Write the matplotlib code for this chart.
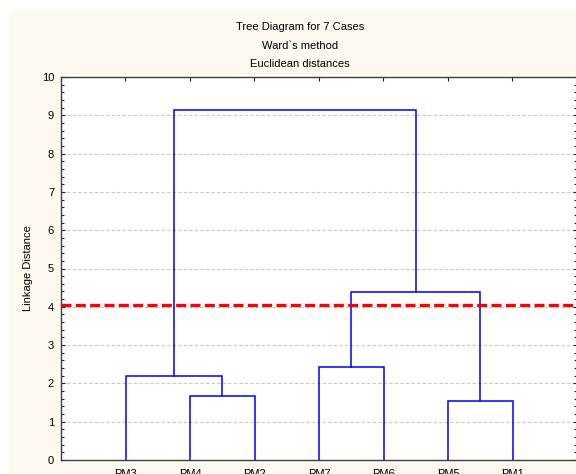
import matplotlib.pyplot as plt
from matplotlib.ticker import MultipleLocator

plt.rcParams['font.family'] = ['Liberation Sans', 'DejaVu Sans']

# leaves in dendrogram order
leaves = ['PM3', 'PM4', 'PM2', 'PM7', 'PM6', 'PM5', 'PM1']
# merges: (left member, right member, linkage distance)
merges = [
    ('PM4', 'PM2', 1.66),
    ('PM3', 'c0', 2.19),
    ('PM7', 'PM6', 2.42),
    ('PM5', 'PM1', 1.55),
    ('c2', 'c3', 4.38),
    ('c1', 'c4', 9.13),
]
cut_height = 4.06

fig = plt.figure(figsize=(5.76, 4.74), dpi=100)
fig.patch.set_facecolor('white')
# cream panel behind everything (white margin at left/top)
fig.patches.append(plt.Rectangle((10 / 576, 0), 1, 1 - 10 / 474, transform=fig.transFigure,
                                 facecolor='#fdf9ef', edgecolor='none', zorder=-1))

ax = fig.add_axes([61 / 576, 14 / 474, 516 / 576, 383 / 474])
ax.set_facecolor('white')

# positions and heights of every node
pos = {name: i + 1 for i, name in enumerate(leaves)}
height = {name: 0.0 for name in leaves}
for k, (a, b, h) in enumerate(merges):
    xa, xb = pos[a], pos[b]
    ax.plot([xa, xa, xb, xb], [height[a], h, h, height[b]], color='#0000ff', lw=1.1,
            solid_joinstyle='miter', zorder=3)
    pos['c%d' % k] = (xa + xb) / 2
    height['c%d' % k] = h

ax.axhline(cut_height, color='#ff0000', lw=2.4, ls=(0, (3.0, 1.3)), zorder=4)

ax.set_xlim(0, 8)
ax.set_ylim(0, 10)
ax.set_xticks([pos[n] for n in leaves])
ax.set_xticklabels(leaves)
ax.set_yticks(range(0, 11))
ax.yaxis.set_minor_locator(MultipleLocator(0.2))
ax.grid(axis='y', which='major', color='#c8c8c8', ls=(0, (3, 2)), lw=0.8)

ax.tick_params(axis='x', bottom=False, top=False, labelsize=8, pad=3, colors='black')
ax.tick_params(axis='y', which='major', direction='in', left=True, right=True,
               length=3, width=0.8, labelsize=8, pad=5, color='#202020')
ax.tick_params(axis='y', which='minor', direction='in', left=True, right=True,
               length=2, width=0.8, color='#202020')
# top ticks at integer positions
ax_top = ax.secondary_xaxis('top')
ax_top.set_xticks(range(0, 9))
ax_top.tick_params(direction='in', length=3, width=0.8, labeltop=False, color='#202020')
ax_top.spines['top'].set_visible(False)

for s in ax.spines.values():
    s.set_color('#404040')
    s.set_linewidth(1.0)

ax.set_ylabel('Linkage Distance', fontsize=8, labelpad=6)

fig.text(300 / 576, 1 - 27 / 474, 'Tree Diagram for 7 Cases', ha='center', va='center', fontsize=8)
fig.text(300 / 576, 1 - 46 / 474, 'Ward`s method', ha='center', va='center', fontsize=8)
fig.text(300 / 576, 1 - 64 / 474, 'Euclidean distances', ha='center', va='center', fontsize=8)

fig.savefig('out.png', dpi=100)
